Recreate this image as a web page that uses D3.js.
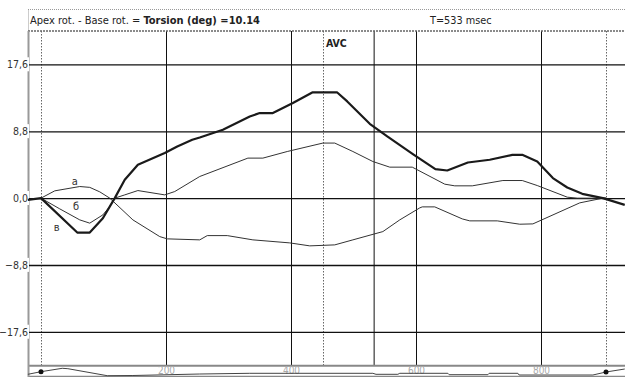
<!DOCTYPE html>
<html><head><meta charset="utf-8">
<script src="https://cdn.jsdelivr.net/npm/d3@7"></script>
<style>
body{margin:0;background:#fff}
svg{display:block}
text{font-family:"DejaVu Sans Condensed","DejaVu Sans",sans-serif}
</style>
</head><body>
<svg id="c" width="625" height="377"></svg>
<script>
// ---- data ----
const yTicks = [-17.6, -8.8, 0, 8.8, 17.6];
const xTicks = [200, 400, 600, 800];
const markerT = 533;          // solid marker, "T=533 msec"
const avcT = 451;             // AVC
const cycleStart = 0, cycleEnd = 904;
const torsionValue = "10.14";

// thick curve (в) - torsion
const curveV = [[-21,-0.22],[0,0],[58,-4.53],[78,-4.53],[99,-2.64],[118,0],[134,2.41],[155,4.39],[198,5.93],[218,6.8],[242,7.68],[254,7.98],[291,9.0],[334,10.75],[350,11.2],[371,11.2],[403,12.52],[434,13.91],[474,13.91],[490,12.73],[526,9.79],[554,8.12],[595,5.8],[631,3.82],[650,3.64],[683,4.69],[718,5.05],[754,5.7],[770,5.7],[794,4.82],[819,2.64],[842,1.4],[866,0.57],[899,0],[934,-0.88]];
// thin curve (а)
const curveA = [[0,0],[22,0.96],[62,1.53],[78,1.42],[94,0.83],[110,0],[147,-2.86],[190,-5.06],[202,-5.36],[254,-5.49],[266,-4.93],[298,-4.93],[339,-5.49],[398,-5.89],[430,-6.28],[470,-6.15],[499,-5.49],[547,-4.4],[574,-2.86],[606,-1.28],[610,-1.15],[630,-1.15],[674,-2.73],[686,-2.99],[730,-2.99],[766,-3.43],[787,-3.39],[862,-0.62],[899,0],[904,0]];
// thin curve (б)
const curveB = [[0,0],[30,-1.41],[62,-2.86],[78,-3.29],[99,-2.2],[110,-1.1],[118,0],[134,0.43],[155,1.0],[198,0.43],[214,0.87],[254,2.85],[331,5.27],[355,5.27],[394,6.14],[451,7.25],[470,7.25],[499,6.14],[531,4.82],[558,4.08],[594,4.08],[646,1.84],[662,1.62],[690,1.62],[739,2.32],[770,2.32],[794,1.66],[842,0.13],[858,0],[904,0]];
// curve labels [text, t, value]
const curveLabels = [["а",54,1.75],["б",56,-1.54],["в",25,-4.3]];
// ECG strip trace (arbitrary units 0..1)
const ecg = [[-21,0.17],[0,0.43],[34,0.77],[43,0.73],[106,0.03],[147,0.05],[254,0.2],[334,0.27],[531,0.27],[536,0.17],[571,0.17],[574,0.27],[651,0.27],[653,0.13],[715,0.13],[717,0.27],[763,0.27],[765,0.1],[883,0.1],[904,0.4],[934,0.7]];

// ---- layout ----
const svg = d3.select("#c");
const W = 625, L = 29, TOP = 31, BOT = 365.3;
const x = d3.scaleLinear().domain([0, 800]).range([41, 541]);
const y = d3.scaleLinear().domain([-22, 22]).range([BOT, TOP]);
const ye = d3.scaleLinear().domain([0, 1]).range([376, 366]);

// title box
svg.append("line").attr("x1",28).attr("x2",W).attr("y1",9.5).attr("y2",9.5)
  .attr("stroke","#999").attr("stroke-dasharray","1,1");
svg.append("line").attr("x1",28.5).attr("x2",28.5).attr("y1",9.5).attr("y2",TOP)
  .attr("stroke","#999").attr("stroke-dasharray","1,1");
const title = svg.append("text").attr("x",30).attr("y",23.5).attr("font-size",11).attr("fill","#222");
title.append("tspan").text("Apex rot. - Base rot. = ");
title.append("tspan").attr("font-weight","bold").text("Torsion (deg) =" + torsionValue);
svg.append("text").attr("x",430).attr("y",23.5).attr("font-size",10.8).attr("fill","#222")
  .text("T=" + markerT + " msec");

// y grid + labels
const gy = svg.append("g").attr("transform",`translate(${L},0)`)
  .call(d3.axisLeft(y).tickValues(yTicks).tickSize(-(W-L)).tickPadding(1)
    .tickFormat(d => d3.format(".1f")(d).replace(".", ",")));
gy.select(".domain").remove();
gy.selectAll(".tick line").attr("stroke","#111").attr("stroke-width",1.3);
gy.selectAll(".tick text").attr("font-size",10.5).attr("fill","#333")
  .attr("font-family",'"DejaVu Sans Condensed","DejaVu Sans",sans-serif');

// x grid (vertical lines)
const gx = svg.append("g").attr("transform",`translate(0,${TOP})`)
  .call(d3.axisTop(x).tickValues(xTicks).tickSize(-(BOT-TOP)).tickFormat(""));
gx.select(".domain").remove();
gx.selectAll(".tick line").attr("stroke","#111").attr("stroke-width",1);

// solid marker T
svg.append("line").attr("x1",x(markerT)).attr("x2",x(markerT)).attr("y1",TOP).attr("y2",BOT)
  .attr("stroke","#111");
// dotted markers
[cycleStart, avcT, cycleEnd].forEach(t => {
  svg.append("line").attr("x1",Math.round(x(t))+0.5).attr("x2",Math.round(x(t))+0.5)
    .attr("y1",TOP).attr("y2",BOT)
    .attr("stroke","#666").attr("stroke-dasharray","1.5,1.5");
});
svg.append("text").attr("x",x(avcT)+3).attr("y",47).attr("font-size",10.5)
  .attr("font-weight","bold").attr("fill","#222").text("AVC");

// frame lines
svg.append("line").attr("x1",28).attr("x2",W).attr("y1",TOP).attr("y2",TOP)
  .attr("stroke","#666").attr("stroke-width",1.5).attr("stroke-dasharray","2,1");
svg.append("line").attr("x1",28).attr("x2",W).attr("y1",BOT+0.5).attr("y2",BOT+0.5)
  .attr("stroke","#888").attr("stroke-width",2);
svg.append("line").attr("x1",28).attr("x2",W).attr("y1",376.5).attr("y2",376.5)
  .attr("stroke","#888").attr("stroke-width",1.5);
svg.append("line").attr("x1",28.5).attr("x2",28.5).attr("y1",TOP).attr("y2",377)
  .attr("stroke","#999").attr("stroke-width",2);

// label backgrounds (gaps in grey bar)
gy.selectAll(".tick").each(function(){
  const t = d3.select(this).select("text").node();
  const b = t.getBBox();
  d3.select(this).insert("rect","text").attr("x",b.x-1).attr("y",b.y-1)
    .attr("width",b.width+2).attr("height",b.height+2).attr("fill","#fff");
});
gy.raise();

// curves
const line = d3.line().x(d => x(d[0])).y(d => y(d[1]));
svg.append("path").datum(curveA).attr("d",line).attr("fill","none").attr("stroke","#333").attr("stroke-width",1);
svg.append("path").datum(curveB).attr("d",line).attr("fill","none").attr("stroke","#333").attr("stroke-width",1);
svg.append("path").datum(curveV).attr("d",line).attr("fill","none").attr("stroke","#1a1a1a").attr("stroke-width",2.2)
  .attr("stroke-linejoin","round");

curveLabels.forEach(([s,t,v]) => {
  svg.append("text").attr("x",x(t)).attr("y",y(v)).attr("text-anchor","middle")
    .attr("font-size",11).attr("fill","#333").text(s);
});

// bottom strip: x labels + ecg
const gb = svg.append("g").attr("transform",`translate(0,366)`)
  .call(d3.axisBottom(x).tickValues(xTicks).tickSize(0).tickPadding(1));
gb.select(".domain").remove();
gb.selectAll(".tick text").attr("font-size",10).attr("fill","#aaa")
  .attr("font-family",'"DejaVu Sans Condensed","DejaVu Sans",sans-serif');

const lineE = d3.line().x(d => x(d[0])).y(d => ye(d[1]));
svg.append("path").datum(ecg).attr("d",lineE).attr("fill","none").attr("stroke","#444").attr("stroke-width",1);
const ecgAt = t => { const i = d3.bisector(d=>d[0]).left(ecg,t); const a=ecg[Math.max(0,i-1)], b=ecg[i]; if(!a||a===b) return b[1]; return a[1]+(b[1]-a[1])*(t-a[0])/(b[0]-a[0]); };
[cycleStart, cycleEnd].forEach(t => {
  svg.append("circle").attr("cx",x(t)).attr("cy",ye(ecgAt(t))).attr("r",2.5).attr("fill","#111");
});
</script>
</body></html>
